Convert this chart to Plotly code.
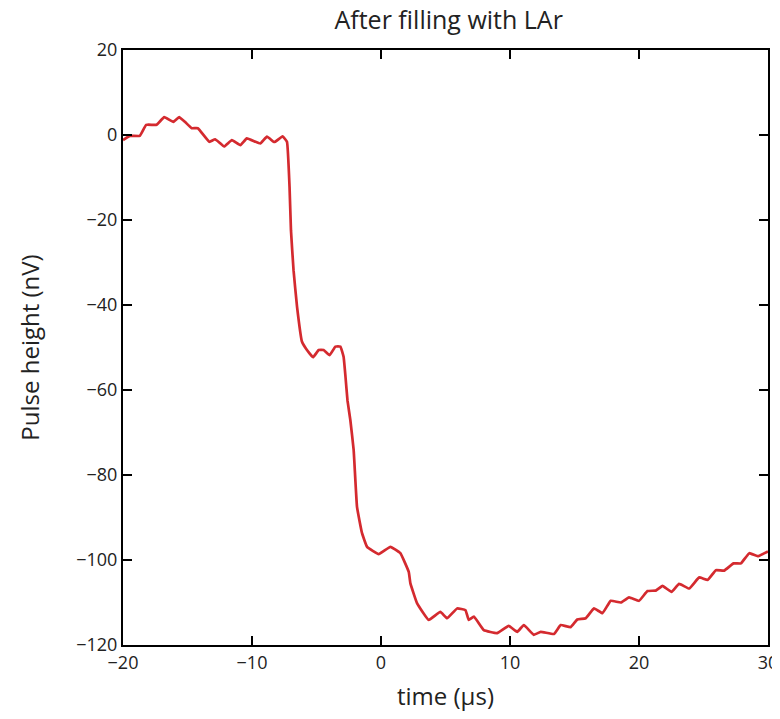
import plotly.graph_objects as go

time_us = [-20.0, -19.46, -18.7, -18.2, -17.4, -16.8, -16.1, -15.65, -15.2, -14.67, -14.2,
           -13.3, -12.86, -12.16, -11.56, -10.9, -10.4, -9.36, -8.84, -8.33, -8.2, -7.63,
           -7.29, -7.09, -6.98, -6.78, -6.51, -6.13, -5.74, -5.27, -4.83, -4.45, -3.98,
           -3.54, -3.15, -2.9, -2.75, -2.6, -2.38, -2.12, -1.86, -1.47, -1.08, -0.18,
           0.73, 1.5, 2.15, 2.28, 2.8, 3.7, 4.6, 5.12, 5.9, 6.55, 6.8, 7.2, 7.97, 9.0,
           9.9, 10.56, 11.07, 11.85, 12.38, 13.41, 13.93, 14.7, 15.22, 15.87, 16.51,
           17.17, 17.81, 18.59, 19.23, 20.0, 20.66, 21.3, 21.82, 22.52, 23.11, 23.89,
           24.67, 25.32, 25.96, 26.6, 27.33, 27.9, 28.55, 29.2, 30.0]
pulse_nV = [-1.2, -0.2, -0.2, 2.4, 2.4, 4.2, 3.1, 4.2, 3.1, 1.6, 1.6,
            -1.6, -1.0, -2.7, -1.2, -2.4, -0.8, -2.0, -0.4, -1.6, -1.6, -0.3,
            -1.6, -12.2, -22.4, -31.8, -40.4, -48.6, -50.6, -52.3, -50.6, -50.6, -51.8,
            -49.8, -49.8, -52.2, -57.0, -62.4, -67.0, -74.1, -87.5, -93.7, -96.9, -98.6,
            -96.9, -98.4, -102.8, -105.5, -110.2, -114.1, -112.2, -113.7, -111.4, -111.8,
            -114.1, -113.3, -116.5, -117.2,
            -115.5, -116.9, -115.3, -117.6, -116.9, -117.4, -115.3, -115.8, -114.0, -113.7,
            -111.4, -112.5, -109.6, -110.0, -108.8, -109.6, -107.3, -107.2, -106.1, -107.5,
            -105.6, -106.7, -104.1, -104.7, -102.4, -102.5, -100.8, -100.8, -98.4, -99.1,
            -98.0]

x_ticks = [-20, -10, 0, 10, 20, 30]
y_ticks = [20, 0, -20, -40, -60, -80, -100, -120]

FONT = "Open Sans, Lato, sans-serif"

fig = go.Figure()
fig.add_trace(go.Scatter(
    x=time_us, y=pulse_nV, mode="lines",
    line=dict(color="#d42a2f", width=2.7, shape="spline", smoothing=0.3),
    showlegend=False, hoverinfo="x+y",
))

axis_common = dict(
    showline=True, linecolor="black", linewidth=2,
    ticks="inside", ticklen=9, tickwidth=2, tickcolor="black",
    mirror="allticks", showgrid=False, zeroline=False, automargin=False,
    tickfont=dict(family=FONT, size=18, color="#222"),
)

fig.update_xaxes(range=[-20, 30], tickvals=x_ticks,
                 title=dict(text="time (µs)", font=dict(family=FONT, size=24, color="#222"), standoff=16),
                 **axis_common)
fig.update_yaxes(range=[-120, 20], tickvals=y_ticks,
                 title=dict(text="Pulse height (nV)", font=dict(family=FONT, size=24, color="#222"), standoff=30),
                 **axis_common)

# the page body adds an 8px offset; margins are chosen so the plot box lands where the reference has it
fig.update_layout(
    width=780, height=719,
    margin=dict(l=115, r=20, t=42, b=82),
    paper_bgcolor="white", plot_bgcolor="white",
    title=dict(text="After filling with LAr", x=0.565, xanchor="center", y=0.983, yanchor="middle",
               font=dict(family=FONT, size=25, color="#222")),
)

fig.write_html("out.html", config={"displayModeBar": False})
